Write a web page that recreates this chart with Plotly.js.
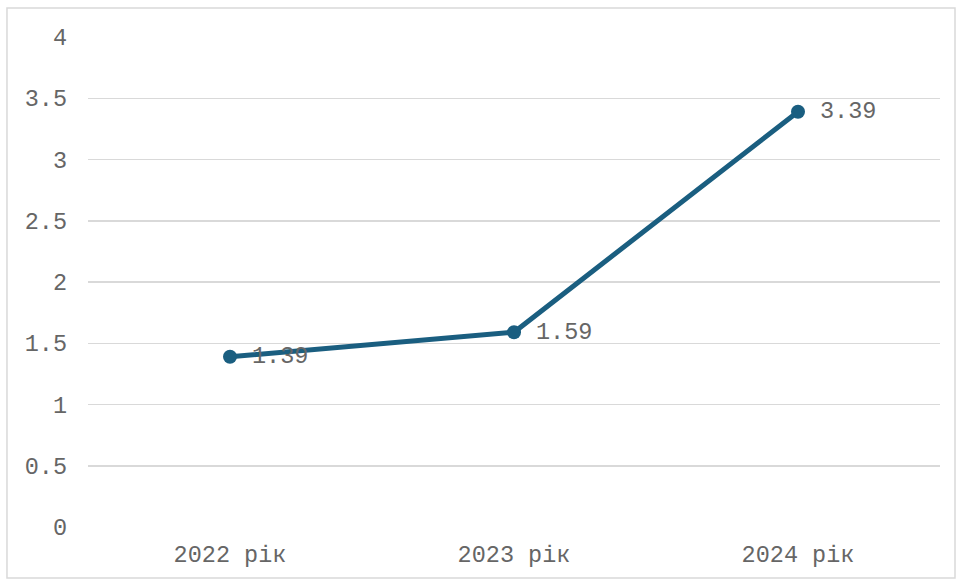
<!DOCTYPE html>
<html>
<head>
<meta charset="utf-8">
<script src="https://cdn.plot.ly/plotly-3.0.1.min.js"></script>
<style>
  html, body { margin: 0; padding: 0; background: #fff; }
  #chart { width: 956px; height: 580px; }
</style>
</head>
<body>
<div id="chart"></div>
<script>
// Years and index values
const categories = ['2022 рік', '2023 рік', '2024 рік'];
const values = [1.39, 1.59, 3.39];
const valueLabels = ['1.39', '1.59', '3.39'];
const yTicks = [0, 0.5, 1, 1.5, 2, 2.5, 3, 3.5, 4];
const yTickLabels = ['0', '0.5', '1', '1.5', '2', '2.5', '3', '3.5', '4'];

const lineColor = '#1a5e80';
const textColor = '#666666';
const monoFont = '"Courier New", "Liberation Mono", monospace';
const fontSize = 23.5;

const trace = {
  x: categories,
  y: values,
  type: 'scatter',
  mode: 'lines+markers',
  line: { color: lineColor, width: 5 },
  marker: { color: lineColor, size: 14 },
  cliponaxis: false,
  hoverinfo: 'x+y'
};

// value labels sit to the right of each marker
const labels = categories.map((c, i) => ({
  x: c,
  y: values[i],
  xref: 'x',
  yref: 'y',
  text: valueLabels[i],
  showarrow: false,
  xanchor: 'left',
  yanchor: 'middle',
  xshift: 20,
  font: { family: monoFont, size: fontSize, color: textColor }
}));

const layout = {
  width: 956,
  height: 580,
  margin: { l: 88, r: 16, t: 37, b: 53 },
  paper_bgcolor: '#ffffff',
  plot_bgcolor: '#ffffff',
  showlegend: false,
  font: { family: monoFont, color: textColor, size: fontSize },
  xaxis: {
    type: 'category',
    range: [-0.5, 2.5],
    showgrid: false,
    zeroline: false,
    showline: false,
    ticks: '',
    ticklabelstandoff: 10,
    tickfont: { family: monoFont, size: fontSize, color: textColor }
  },
  yaxis: {
    range: [0, 4],
    tickvals: yTicks,
    ticktext: yTickLabels,
    showgrid: true,
    gridcolor: '#d9d9d9',
    gridwidth: 1.5,
    zeroline: false,
    showline: false,
    ticks: '',
    ticklabelstandoff: 20,
    tickfont: { family: monoFont, size: fontSize, color: textColor }
  },
  annotations: labels,
  shapes: [{
    type: 'rect',
    xref: 'paper', yref: 'paper',
    x0: -0.0951, x1: 1.0176,
    y0: -0.104, y1: 1.0592,
    line: { color: '#d9d9d9', width: 1.5 },
    fillcolor: 'rgba(0,0,0,0)',
    layer: 'below'
  }]
};

Plotly.newPlot('chart', [trace], layout, { displayModeBar: false, staticPlot: true });
</script>
</body>
</html>
